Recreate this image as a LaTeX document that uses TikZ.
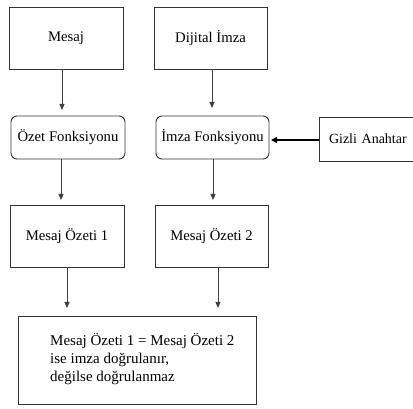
\documentclass[tikz,border=0pt]{standalone}
\usepackage{fontspec}
\setmainfont{Liberation Serif}
\usetikzlibrary{arrows.meta}
\begin{document}
\begin{tikzpicture}[x=1pt,y=-1pt,
  box/.style={draw=black!80,line width=0.9pt,fill=white,inner sep=0pt,font=\fontsize{14.7}{17}\selectfont},
  rbox/.style={box,rounded corners=6pt},
  arr/.style={draw=black!75,line width=0.9pt,-{Triangle[length=6pt,width=5pt]}},
  thickarr/.style={draw=black,line width=1.8pt,-{Triangle[length=6pt,width=6pt]}}]
\useasboundingbox (0,0) rectangle (413,409);
\clip (0,0) rectangle (413,409);
\node[box,minimum width=114pt,minimum height=62pt] (mesaj) at (66,38) {Mesaj};
\node[box,minimum width=113pt,minimum height=62pt] (dijital) at (210.5,38) {Dijital İmza};
\node[rbox,minimum width=114pt,minimum height=43pt] (ozet) at (68,137.5) {Özet Fonksiyonu};
\node[rbox,minimum width=113pt,minimum height=43pt] (imza) at (212.5,137.5) {İmza Fonksiyonu};
\node[box,minimum width=101pt,minimum height=44pt,text width=101pt,align=left,font=\fontsize{14}{17}\selectfont] (gizli) at (369.5,139) {\hspace{10pt}Gizli Anahtar};
\node[box,minimum width=114pt,minimum height=62pt] (mo1) at (67,236) {Mesaj Özeti 1};
\node[box,minimum width=113pt,minimum height=62pt] (mo2) at (211.5,236) {Mesaj Özeti 2};
\node[box,minimum width=238pt,minimum height=88pt] (sonuc) at (137,360) {};
\node[anchor=north west,inner sep=0pt,align=left,font=\fontsize{15}{18}\selectfont] (sonuctext) at (50,333)
  {Mesaj Özeti 1 = Mesaj Özeti 2\\ise imza doğrulanır,\\değilse doğrulanmaz};
\coordinate (t1) at (62,110);
\coordinate (t2) at (212,108);
\coordinate (t3) at (61,200);
\coordinate (t4) at (213,200);
\coordinate (t5) at (67,308);
\coordinate (t6) at (218,308);
\coordinate (t7) at (271,140);
\draw[arr] (mesaj.south -| t1) -- (t1);
\draw[arr] (dijital.south -| t2) -- (t2);
\draw[arr] (ozet.south -| t3) -- (t3);
\draw[arr] (imza.south -| t4) -- (t4);
\draw[arr] (mo1.south -| t5) -- (t5);
\draw[arr] (mo2.south -| t6) -- (t6);
\draw[thickarr] (gizli.west |- t7) -- (t7);
\end{tikzpicture}
\end{document}
